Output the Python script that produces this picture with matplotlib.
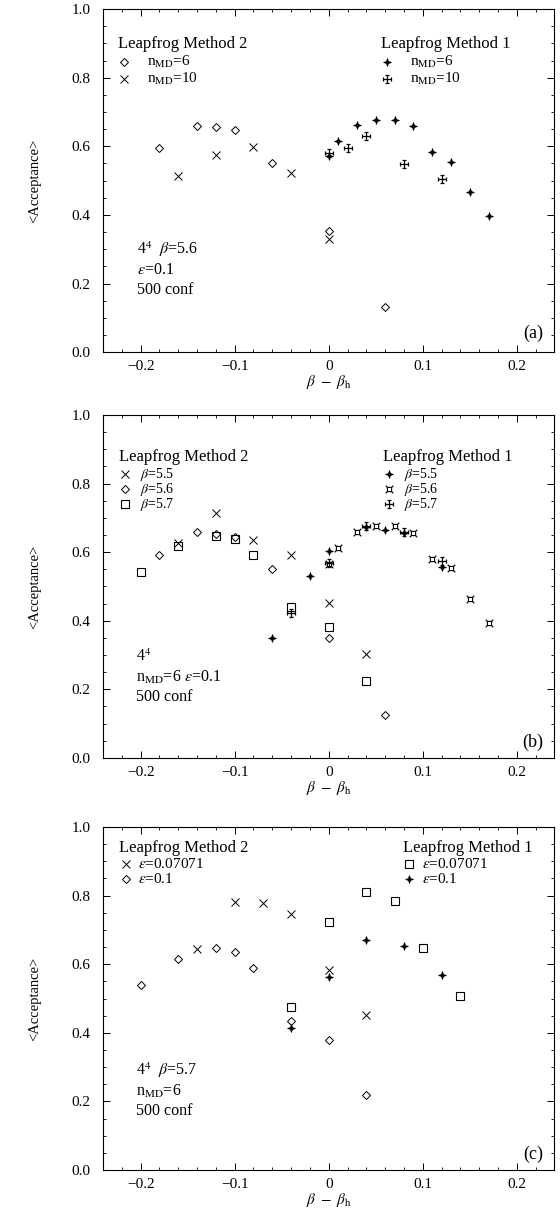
import matplotlib
matplotlib.use("Agg")
import matplotlib.pyplot as plt
from matplotlib.path import Path
from matplotlib.ticker import MultipleLocator, FuncFormatter

plt.rcParams["font.family"] = ["Liberation Serif", "DejaVu Serif"]
plt.rcParams["mathtext.fontset"] = "stix"

# panel (a): 4^4, beta=5.6, eps=0.1
a_m2_n6_x = [-0.18, -0.14, -0.12, -0.10, -0.06, 0.0, 0.06]
a_m2_n6_y = [0.594, 0.660, 0.657, 0.647, 0.551, 0.352, 0.132]
a_m2_n10_x = [-0.16, -0.12, -0.08, -0.04, 0.0]
a_m2_n10_y = [0.514, 0.575, 0.597, 0.522, 0.331]
a_m1_n6_x = [0.0, 0.01, 0.03, 0.05, 0.07, 0.09, 0.11, 0.13, 0.15, 0.17]
a_m1_n6_y = [0.571, 0.615, 0.662, 0.678, 0.678, 0.659, 0.584, 0.555, 0.466, 0.398]
a_m1_n10_x = [0.0, 0.02, 0.04, 0.08, 0.12]
a_m1_n10_y = [0.581, 0.595, 0.631, 0.548, 0.505]

# panel (b): n_MD=6, eps=0.1
b_m2_55_x = [-0.16, -0.12, -0.08, -0.04, 0.0, 0.04]
b_m2_55_y = [0.626, 0.714, 0.636, 0.591, 0.451, 0.304]
b_m2_56_x = [-0.18, -0.14, -0.12, -0.10, -0.06, 0.0, 0.06]
b_m2_56_y = [0.592, 0.660, 0.653, 0.644, 0.550, 0.349, 0.126]
b_m2_57_x = [-0.20, -0.16, -0.12, -0.10, -0.08, -0.04, 0.0, 0.04]
b_m2_57_y = [0.542, 0.617, 0.648, 0.638, 0.592, 0.440, 0.383, 0.225]
b_m1_55_x = [-0.06, -0.02, 0.0, 0.04, 0.06, 0.08, 0.12]
b_m1_55_y = [0.350, 0.531, 0.604, 0.672, 0.665, 0.655, 0.556]
b_m1_56_x = [0.0, 0.01, 0.03, 0.05, 0.07, 0.09, 0.11, 0.13, 0.15, 0.17]
b_m1_56_y = [0.566, 0.612, 0.660, 0.675, 0.675, 0.657, 0.580, 0.553, 0.463, 0.393]
b_m1_57_x = [-0.04, 0.0, 0.04, 0.08, 0.12]
b_m1_57_y = [0.422, 0.568, 0.677, 0.658, 0.573]

# panel (c): beta=5.7, n_MD=6
c_m2_e07_x = [-0.14, -0.10, -0.07, -0.04, 0.0, 0.04]
c_m2_e07_y = [0.644, 0.782, 0.779, 0.746, 0.582, 0.452]
c_m2_e1_x = [-0.20, -0.16, -0.12, -0.10, -0.08, -0.04, 0.0, 0.04]
c_m2_e1_y = [0.539, 0.615, 0.647, 0.636, 0.589, 0.436, 0.380, 0.219]
c_m1_e07_x = [-0.04, 0.0, 0.04, 0.07, 0.10, 0.14]
c_m1_e07_y = [0.476, 0.724, 0.812, 0.783, 0.646, 0.508]
c_m1_e1_x = [-0.04, 0.0, 0.04, 0.08, 0.12]
c_m1_e1_y = [0.415, 0.563, 0.670, 0.654, 0.569]

# marcadores propios
star4 = Path([(0, 1), (0.25, 0.25), (1, 0), (0.25, -0.25), (0, -1),
              (-0.25, -0.25), (-1, 0), (-0.25, 0.25), (0, 1)], closed=True)

dag_v = [(0, -1), (0, 1), (-1, 0), (1, 0),
         (-0.45, 1), (0.45, 1), (-0.45, -1), (0.45, -1),
         (-1, -0.45), (-1, 0.45), (1, -0.45), (1, 0.45)]
dag_c = [Path.MOVETO, Path.LINETO] * 6
dagger = Path(dag_v, dag_c)

s = 0.55
csq_v = [(-s, -s), (s, -s), (s, s), (-s, s), (-s, -s),
         (s, s), (1, 1), (-s, s), (-1, 1), (s, -s), (1, -1), (-s, -s), (-1, -1)]
csq_c = [Path.MOVETO] + [Path.LINETO] * 4 + [Path.MOVETO, Path.LINETO] * 4
cornsq = Path(csq_v, csq_c)

ST = dict(marker=star4, ms=5.5, mfc="black", mec="black", mew=0.6)
DG = dict(marker=dagger, ms=5.5, mfc="none", mec="black", mew=0.9)
CS = dict(marker=cornsq, ms=5.5, mfc="none", mec="black", mew=0.8)
DI = dict(marker="D", ms=3.6, mfc="none", mec="black", mew=0.7)
XX = dict(marker="x", ms=5.5, mfc="none", mec="black", mew=0.7)
SQ = dict(marker="s", ms=5.5, mfc="none", mec="black", mew=0.8)

fig = plt.figure(figsize=(5.6, 12.1), dpi=100)
bottoms = [0.709, 0.3736, 0.033]
axs = [fig.add_axes([0.184, b, 0.806, 0.2835]) for b in bottoms]

fmt_x = FuncFormatter(lambda v, p: "0" if abs(v) < 1e-9 else ("%.1f" % v).replace("-", "\u2212"))

for ax in axs:
    ax.set_xlim(-0.24, 0.24)
    ax.set_ylim(0.0, 1.0)
    ax.xaxis.set_major_locator(MultipleLocator(0.1))
    ax.xaxis.set_minor_locator(MultipleLocator(0.02))
    ax.yaxis.set_major_locator(MultipleLocator(0.2))
    ax.yaxis.set_minor_locator(MultipleLocator(0.05))
    ax.xaxis.set_major_formatter(fmt_x)
    ax.yaxis.set_major_formatter(FuncFormatter(lambda v, p: "%.1f" % v))
    ax.tick_params(which="both", direction="in", top=True, right=True, labelsize=11)
    ax.tick_params(which="major", length=5, width=0.7)
    ax.tick_params(which="minor", length=2.5, width=0.6)
    ax.tick_params(axis="x", pad=6)
    ax.tick_params(axis="y", pad=9)
    for sp in ax.spines.values():
        sp.set_linewidth(0.8)
    ax.set_xlabel(r"$\beta\ -\ \beta_{\rm h}$", fontsize=11, labelpad=0)
    ax.set_ylabel("<Acceptance>", fontsize=10.5, labelpad=22)


def leyenda(ax, x0, y0, titulo, filas, gap, dy, dx, fs=11):
    ax.text(x0, y0, titulo, transform=ax.transAxes, fontsize=12, va="center")
    for i, (estilo, txt) in enumerate(filas):
        y = y0 - gap - i * dy
        ax.plot([x0 + 0.014], [y], transform=ax.transAxes, ls="none", **estilo)
        ax.text(x0 + dx + 0.014, y, txt, transform=ax.transAxes, fontsize=fs, va="center")


def nota(ax, x0, ys, textos):
    for y, t in zip(ys, textos):
        ax.text(x0, y, t, transform=ax.transAxes, fontsize=11.5, va="center")


# (a)
ax = axs[0]
ax.plot(a_m2_n6_x, a_m2_n6_y, ls="none", **DI)
ax.plot(a_m2_n10_x, a_m2_n10_y, ls="none", **XX)
ax.plot(a_m1_n6_x, a_m1_n6_y, ls="none", **ST)
ax.plot(a_m1_n10_x, a_m1_n10_y, ls="none", **DG)
leyenda(ax, 0.033, 0.898, "Leapfrog Method 2",
        [(DI, r"n$_{\rm MD}$=6"), (XX, r"n$_{\rm MD}$=10")], 0.052, 0.05, 0.05)
leyenda(ax, 0.616, 0.898, "Leapfrog Method 1",
        [(ST, r"n$_{\rm MD}$=6"), (DG, r"n$_{\rm MD}$=10")], 0.052, 0.05, 0.05)
nota(ax, 0.075, [0.30, 0.24, 0.18], [r"4$^4$  $\beta$=5.6", r"$\epsilon$=0.1", "500 conf"])
ax.text(0.975, 0.055, "(a)", transform=ax.transAxes, fontsize=13, ha="right", va="center")

# (b)
ax = axs[1]
ax.plot(b_m2_55_x, b_m2_55_y, ls="none", **XX)
ax.plot(b_m2_56_x, b_m2_56_y, ls="none", **DI)
ax.plot(b_m2_57_x, b_m2_57_y, ls="none", **SQ)
ax.plot(b_m1_55_x, b_m1_55_y, ls="none", **ST)
ax.plot(b_m1_56_x, b_m1_56_y, ls="none", **CS)
ax.plot(b_m1_57_x, b_m1_57_y, ls="none", **DG)
leyenda(ax, 0.035, 0.877, "Leapfrog Method 2",
        [(XX, r"$\beta$=5.5"), (DI, r"$\beta$=5.6"), (SQ, r"$\beta$=5.7")],
        0.05, 0.044, 0.032, fs=10)
leyenda(ax, 0.62, 0.877, "Leapfrog Method 1",
        [(ST, r"$\beta$=5.5"), (CS, r"$\beta$=5.6"), (DG, r"$\beta$=5.7")],
        0.05, 0.044, 0.032, fs=10)
nota(ax, 0.074, [0.294, 0.236, 0.178], [r"4$^4$", r"n$_{\rm MD}$=6 $\epsilon$=0.1", "500 conf"])
ax.text(0.975, 0.045, "(b)", transform=ax.transAxes, fontsize=13, ha="right", va="center")

# (c)
ax = axs[2]
ax.plot(c_m2_e07_x, c_m2_e07_y, ls="none", **XX)
ax.plot(c_m2_e1_x, c_m2_e1_y, ls="none", **DI)
ax.plot(c_m1_e07_x, c_m1_e07_y, ls="none", **SQ)
ax.plot(c_m1_e1_x, c_m1_e1_y, ls="none", **ST)
leyenda(ax, 0.036, 0.938, "Leapfrog Method 2",
        [(XX, r"$\epsilon$=0.07071"), (DI, r"$\epsilon$=0.1")], 0.047, 0.042, 0.028)
leyenda(ax, 0.664, 0.938, "Leapfrog Method 1",
        [(SQ, r"$\epsilon$=0.07071"), (ST, r"$\epsilon$=0.1")], 0.047, 0.042, 0.028)
nota(ax, 0.074, [0.292, 0.228, 0.172], [r"4$^4$  $\beta$=5.7", r"n$_{\rm MD}$=6", "500 conf"])
ax.text(0.975, 0.045, "(c)", transform=ax.transAxes, fontsize=13, ha="right", va="center")

fig.savefig("out.png", dpi=100)
plt.close(fig)
